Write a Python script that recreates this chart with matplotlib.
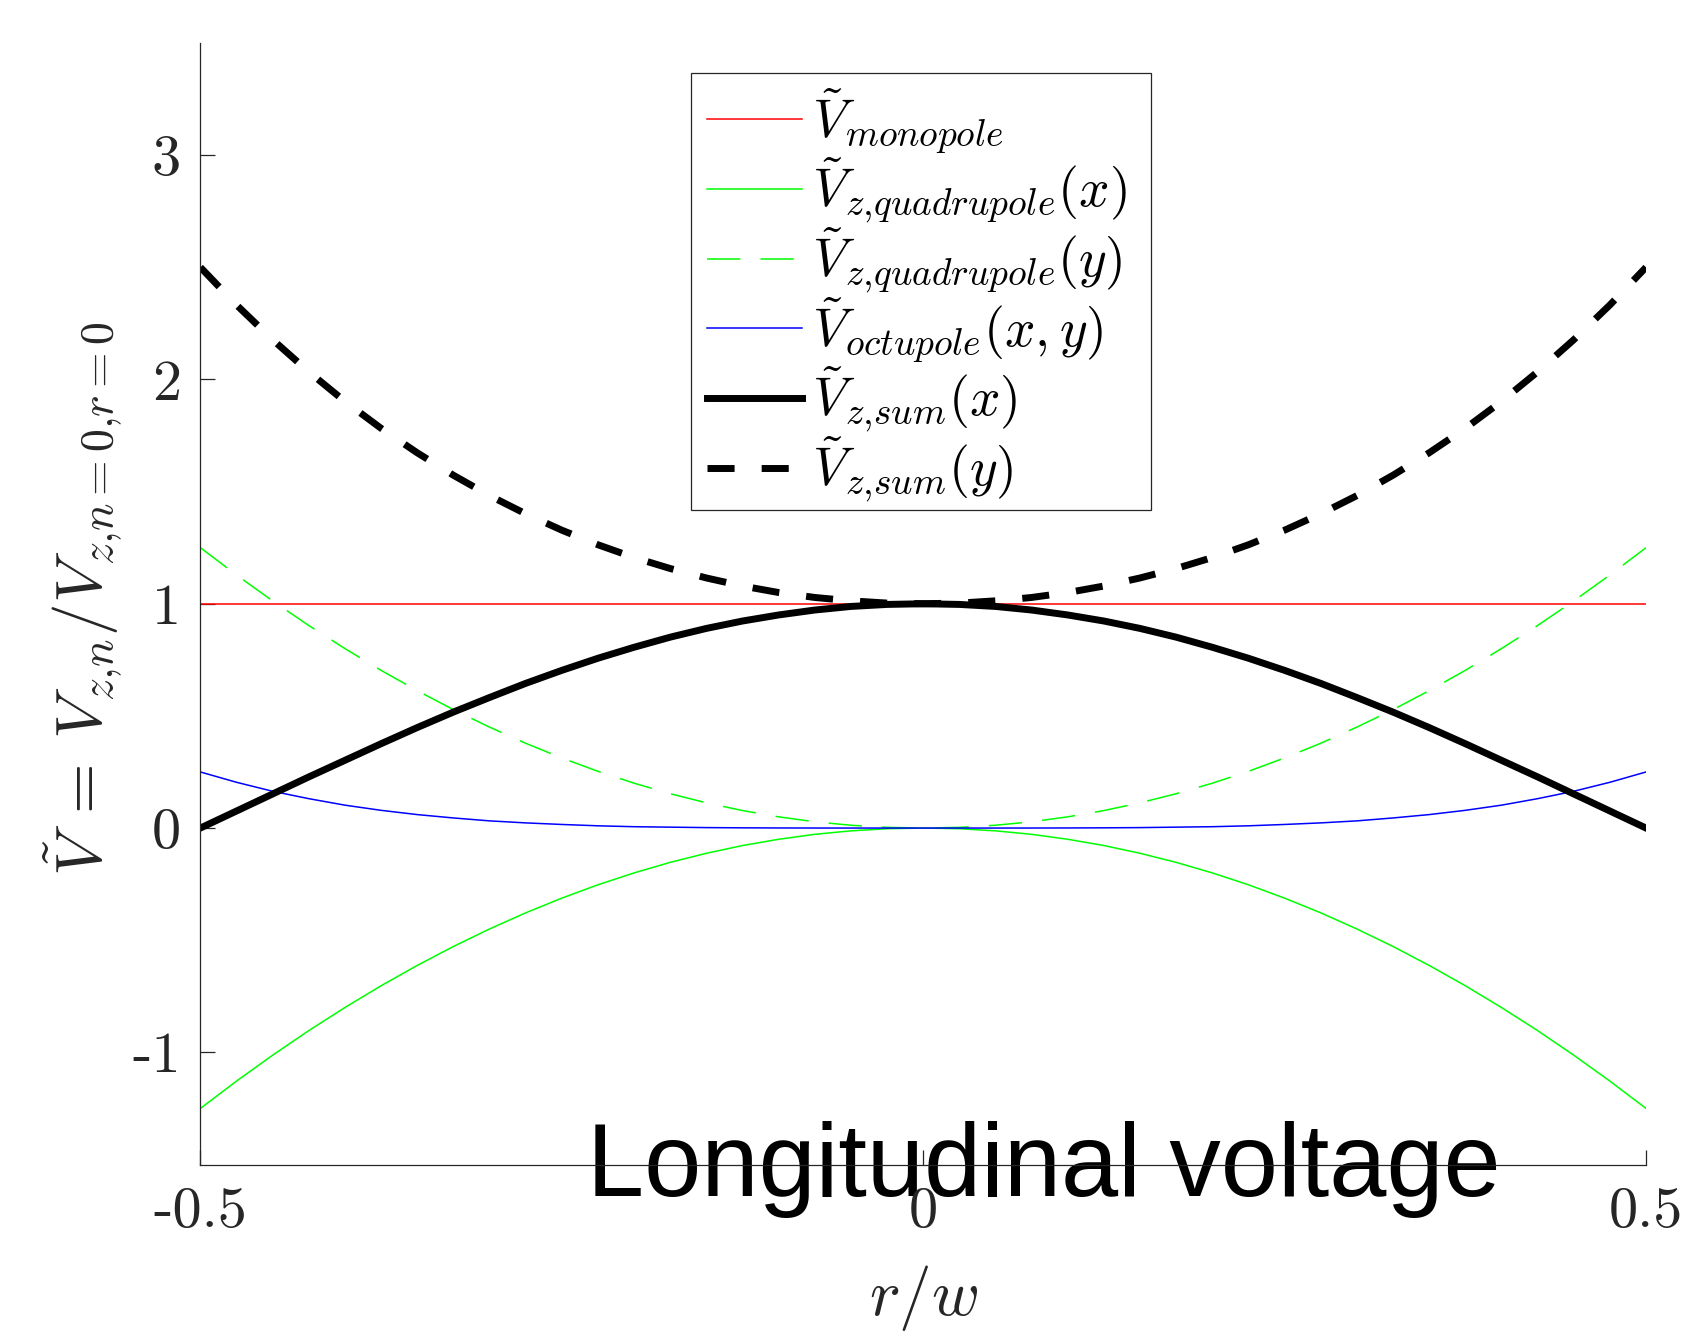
import matplotlib
matplotlib.use("Agg")
import matplotlib.pyplot as plt
from matplotlib.patches import Rectangle

plt.rcParams['mathtext.fontset'] = 'cm'
plt.rcParams['lines.scale_dashes'] = False

r_over_w = [-0.5, -0.475, -0.45, -0.425, -0.4, -0.375, -0.35, -0.325, -0.3, -0.275,
            -0.25, -0.225, -0.2, -0.175, -0.15, -0.125, -0.1, -0.075, -0.05, -0.025,
            0.0, 0.025, 0.05, 0.075, 0.1, 0.125, 0.15, 0.175, 0.2, 0.225,
            0.25, 0.275, 0.3, 0.325, 0.35, 0.375, 0.4, 0.425, 0.45, 0.475, 0.5]

v_monopole = [1.0] * 41

v_quad_x = [-1.25, -1.128, -1.0125, -0.903, -0.8, -0.703, -0.6125, -0.528, -0.45, -0.378,
            -0.3125, -0.253, -0.2, -0.153, -0.1125, -0.078, -0.05, -0.028, -0.0125, -0.003,
            0.0, -0.003, -0.0125, -0.028, -0.05, -0.078, -0.1125, -0.153, -0.2, -0.253,
            -0.3125, -0.378, -0.45, -0.528, -0.6125, -0.703, -0.8, -0.903, -1.0125, -1.128, -1.25]

v_quad_y = [1.25, 1.128, 1.0125, 0.903, 0.8, 0.703, 0.6125, 0.528, 0.45, 0.378,
            0.3125, 0.253, 0.2, 0.153, 0.1125, 0.078, 0.05, 0.028, 0.0125, 0.003,
            0.0, 0.003, 0.0125, 0.028, 0.05, 0.078, 0.1125, 0.153, 0.2, 0.253,
            0.3125, 0.378, 0.45, 0.528, 0.6125, 0.703, 0.8, 0.903, 1.0125, 1.128, 1.25]

v_octupole = [0.25, 0.204, 0.164, 0.131, 0.102, 0.079, 0.060, 0.045, 0.032, 0.023,
              0.016, 0.010, 0.006, 0.004, 0.002, 0.001, 0.0004, 0.0001, 0.0, 0.0,
              0.0, 0.0, 0.0, 0.0001, 0.0004, 0.001, 0.002, 0.004, 0.006, 0.010,
              0.016, 0.023, 0.032, 0.045, 0.060, 0.079, 0.102, 0.131, 0.164, 0.204, 0.25]

v_sum_x = [0.0, 0.076, 0.152, 0.228, 0.302, 0.376, 0.448, 0.517, 0.582, 0.645,
           0.703, 0.757, 0.806, 0.851, 0.890, 0.923, 0.950, 0.972, 0.988, 0.997,
           1.0, 0.997, 0.988, 0.972, 0.950, 0.923, 0.890, 0.851, 0.806, 0.757,
           0.703, 0.645, 0.582, 0.517, 0.448, 0.376, 0.302, 0.228, 0.152, 0.076, 0.0]

v_sum_y = [2.5, 2.332, 2.177, 2.034, 1.902, 1.782, 1.673, 1.573, 1.482, 1.401,
           1.328, 1.263, 1.206, 1.157, 1.115, 1.079, 1.050, 1.028, 1.013, 1.003,
           1.0, 1.003, 1.013, 1.028, 1.050, 1.079, 1.115, 1.157, 1.206, 1.263,
           1.328, 1.401, 1.482, 1.573, 1.673, 1.782, 1.902, 2.034, 2.177, 2.332, 2.5]

labels = [r'$\tilde{V}_{monopole}$',
          r'$\tilde{V}_{z{,}quadrupole}(x)$',
          r'$\tilde{V}_{z{,}quadrupole}(y)$',
          r'$\tilde{V}_{octupole}(x,y)$',
          r'$\tilde{V}_{z{,}sum}(x)$',
          r'$\tilde{V}_{z{,}sum}(y)$']

xticks = [-0.5, 0, 0.5]
xtick_labels = ['-0.5', '0', '0.5']
yticks = [-1, 0, 1, 2, 3]
ytick_labels = ['-1', '0', '1', '2', '3']

W, H = 1689, 1332
fig = plt.figure(figsize=(W / 100, H / 100), dpi=100)
ax = fig.add_axes([200.4 / W, 1 - 1164.5 / H, (1646 - 200.4) / W, (1164.5 - 43) / H])
ax.patch.set_alpha(0)

thin = 1.1
ax.plot(r_over_w, v_monopole, color=(1, 0, 0), lw=thin, label=labels[0])
ax.plot(r_over_w, v_quad_x, color=(0, 1, 0), lw=thin, label=labels[1])
ax.plot(r_over_w, v_quad_y, color=(0, 1, 0), lw=thin, ls=(0, (24, 14.5)), label=labels[2])
ax.plot(r_over_w, v_octupole, color=(0, 0, 1), lw=thin, label=labels[3])
ax.plot(r_over_w, v_sum_x, color='black', lw=5, label=labels[4])
ax.plot(r_over_w, v_sum_y, color='black', lw=5, ls=(0, (19.5, 19.5)), label=labels[5],
        dash_capstyle='butt')

ax.set_xlim(-0.5, 0.5)
ax.set_ylim(-1.5, 3.5)
ax.set_xticks(xticks)
ax.set_xticklabels(xtick_labels, family='cmr10', fontsize=42)
ax.set_yticks(yticks)
ax.set_yticklabels(ytick_labels, family='cmr10', fontsize=42)

gray = '#262626'
for s in ['top', 'right']:
    ax.spines[s].set_visible(False)
for s in ['left', 'bottom']:
    ax.spines[s].set_color(gray)
    ax.spines[s].set_linewidth(0.9)
ax.tick_params(direction='in', length=11, width=0.9, colors=gray, labelcolor=gray)
ax.tick_params(axis='y', pad=14)
ax.tick_params(axis='x', pad=16)

ax.set_xlabel(r'$r/w$', fontsize=47, color=gray)
ax.xaxis.set_label_coords(0.5, -0.088)
ax.set_ylabel(r'$\tilde{V}\:=\:V_{z{,}n}/V_{z{,}n=0{,}r=0}$', fontsize=47, color=gray)
ax.yaxis.set_label_coords(-0.053, 0.505)

# legend frame drawn as a plain rectangle (figure pixels), inside the axes draw order
frame = Rectangle((690.5 / W, 1 - 509.5 / H), (1150.5 - 690.5) / W, (509.5 - 73) / H,
                  transform=fig.transFigure, facecolor='white', edgecolor=gray,
                  linewidth=0.9, zorder=4, clip_on=False)
ax.add_artist(frame)

leg = ax.legend(loc='upper left', bbox_to_anchor=(690.5 / W, 1 - 71 / H),
                bbox_transform=fig.transFigure, borderaxespad=0, fancybox=False,
                fontsize=38.5, handlelength=1.78, handletextpad=0.2, labelspacing=0.0,
                borderpad=0.3, frameon=False)
leg.set_zorder(6)

fig.text(587 / W, 1 - 1196 / H, 'Longitudinal voltage', family='Liberation Sans',
         fontsize=74, color='black', ha='left', va='baseline', zorder=-1)

fig.savefig('out.png', dpi=100)
